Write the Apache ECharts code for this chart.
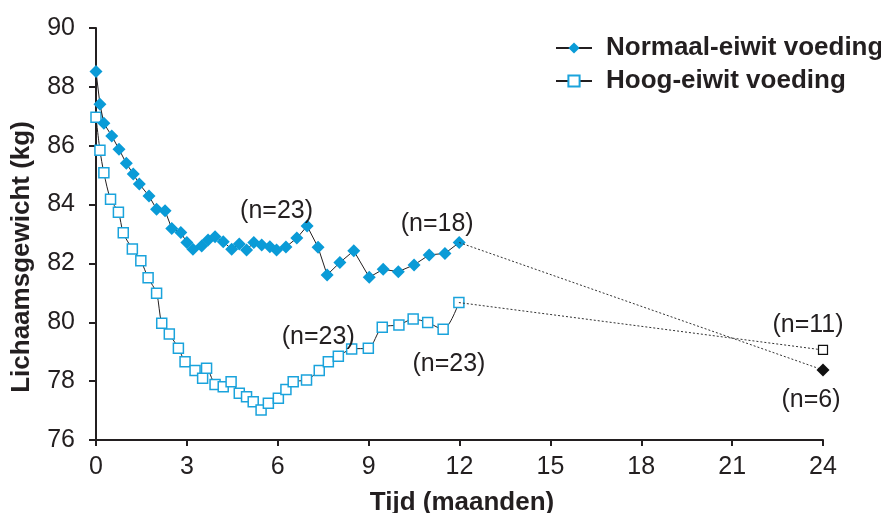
<!DOCTYPE html>
<html>
<head>
<meta charset="utf-8">
<script src="https://cdn.jsdelivr.net/npm/echarts@6/dist/echarts.min.js"></script>
<style>
  html, body { margin: 0; padding: 0; background: #fff; }
  #chart { width: 881px; height: 513px; }
</style>
</head>
<body>
<div id="chart"></div>
<script>
// Body weight over time (months), two diet groups
const normaalMaanden = [0, 0.13, 0.26, 0.52, 0.76, 1.0, 1.23, 1.43, 1.75, 2.0, 2.28, 2.5, 2.8, 3.0, 3.2, 3.49, 3.7, 3.93, 4.2, 4.48, 4.73, 4.97, 5.21, 5.47, 5.74, 5.96, 6.27, 6.63, 6.97, 7.33, 7.63, 8.05, 8.51, 9.02, 9.48, 9.98, 10.5, 11.0, 11.52, 11.99];
const normaalGewicht = [88.52, 87.41, 86.76, 86.33, 85.88, 85.40, 85.04, 84.70, 84.29, 83.84, 83.79, 83.19, 83.05, 82.71, 82.48, 82.59, 82.80, 82.91, 82.74, 82.48, 82.66, 82.46, 82.71, 82.63, 82.57, 82.46, 82.56, 82.86, 83.27, 82.55, 81.61, 82.03, 82.43, 81.53, 81.80, 81.72, 81.95, 82.29, 82.34, 82.71];

const hoogMaanden = [0, 0.13, 0.26, 0.48, 0.74, 0.9, 1.2, 1.48, 1.72, 2.0, 2.17, 2.42, 2.72, 2.94, 3.27, 3.52, 3.65, 3.93, 4.2, 4.46, 4.73, 4.97, 5.19, 5.45, 5.69, 6.02, 6.27, 6.51, 6.95, 7.37, 7.67, 8.0, 8.44, 8.99, 9.45, 10.0, 10.47, 10.95, 11.46, 11.98];
const hoogGewicht = [86.97, 85.85, 85.08, 84.18, 83.74, 83.04, 82.49, 82.09, 81.51, 80.99, 79.97, 79.60, 79.12, 78.66, 78.36, 78.10, 78.44, 77.89, 77.81, 77.98, 77.59, 77.47, 77.30, 77.02, 77.25, 77.42, 77.72, 77.98, 78.04, 78.36, 78.66, 78.85, 79.09, 79.12, 79.83, 79.91, 80.11, 79.99, 79.76, 80.67];

// Follow-up measurement at 24 months
const eindMaand = 24;
const normaalEind = 78.38;
const hoogEind = 79.06;

const xTicks = [0, 3, 6, 9, 12, 15, 18, 21, 24];

const reeksNamen = ['Normaal-eiwit voeding', 'Hoog-eiwit voeding'];

const inkt = '#231f20';
const blauw = '#0a9bd7';
const font = 'Liberation Sans, Arial, sans-serif';
const labelGrootte = 25;
const titelGrootte = 26;

function paren(xs, ys) { return xs.map((x, i) => [x, ys[i]]); }

// n-labels, centred on a point and shifted by an offset
function nLabel(text, offset) {
  return { show: true, formatter: text, position: 'inside', offset: offset,
           color: inkt, fontSize: labelGrootte, fontFamily: font };
}
function metLabel(points, idx, text, offset) {
  points[idx] = { value: points[idx], label: nLabel(text, offset) };
}

const normaalData = paren(normaalMaanden, normaalGewicht);
const hoogData = paren(hoogMaanden, hoogGewicht);
metLabel(normaalData, 25, '(n=23)', [0, -39]);
metLabel(normaalData, normaalData.length - 1, '(n=18)', [-22, -18]);
metLabel(hoogData, 29, '(n=23)', [-1, -33]);
metLabel(hoogData, hoogData.length - 1, '(n=23)', [-10, 62]);

const chart = echarts.init(document.getElementById('chart'), null, { renderer: 'canvas' });

chart.setOption({
  animation: false,
  backgroundColor: '#ffffff',
  textStyle: { fontFamily: font, color: inkt },
  grid: { left: 96, right: 58, top: 28, bottom: 73, containLabel: false, outerBoundsMode: 'none' },
  legend: {
    data: reeksNamen,
    orient: 'vertical',
    left: 555,
    top: 35,
    padding: 0,
    itemGap: 7,
    itemWidth: 36,
    itemHeight: 14,
    textStyle: { fontSize: titelGrootte, fontWeight: 'bold', color: inkt, fontFamily: font, padding: [0, 0, 0, 9] }
  },
  xAxis: {
    type: 'value',
    min: 0, max: 24, interval: 3,
    name: 'Tijd (maanden)',
    nameLocation: 'middle',
    nameGap: 50,
    nameTextStyle: { fontSize: titelGrootte, fontWeight: 'bold', color: inkt, fontFamily: font, padding: [0, 0, 0, 5] },
    axisLine: { lineStyle: { color: inkt, width: 2 } },
    axisTick: { show: true, length: 6, lineStyle: { color: inkt, width: 2 } },
    axisLabel: { fontSize: labelGrootte, color: inkt, margin: 15, fontFamily: font,
                 customValues: xTicks },
    splitLine: { show: false }
  },
  yAxis: {
    type: 'value',
    min: 76, max: 90, interval: 2,
    name: 'Lichaamsgewicht (kg)',
    nameLocation: 'middle',
    nameGap: 61,
    nameRotate: 90,
    nameTextStyle: { fontSize: titelGrootte, fontWeight: 'bold', color: inkt, fontFamily: font, padding: [0, 46, 0, 0] },
    axisLine: { show: true, lineStyle: { color: inkt, width: 2 } },
    axisTick: { show: true, length: 7, lineStyle: { color: inkt, width: 2 } },
    axisLabel: { fontSize: labelGrootte, color: inkt, margin: 21, fontFamily: font },
    splitLine: { show: false }
  },
  series: [
    {
      name: reeksNamen[0],
      type: 'line',
      data: normaalData,
      symbol: 'diamond',
      symbolSize: 13,
      z: 3,
      itemStyle: { color: blauw, borderWidth: 0 },
      lineStyle: { color: inkt, width: 1 },
      emphasis: { disabled: true }
    },
    {
      name: reeksNamen[1],
      type: 'line',
      data: hoogData,
      symbol: 'rect',
      symbolSize: 10,
      smooth: 0.3,
      z: 2,
      itemStyle: { color: '#ffffff', borderColor: '#1aa3dc', borderWidth: 1.5 },
      lineStyle: { color: inkt, width: 1 },
      emphasis: { disabled: true }
    },
    {
      name: 'normaal-24',
      type: 'line',
      data: [
        { value: [normaalMaanden[normaalMaanden.length - 1], normaalGewicht[normaalGewicht.length - 1]], symbol: 'none' },
        { value: [eindMaand, normaalEind], label: nLabel('(n=6)', [-12, 30]) }
      ],
      symbol: 'diamond',
      symbolSize: 13,
      z: 4,
      itemStyle: { color: '#111' },
      lineStyle: { color: '#333', width: 1, type: [2, 2] },
      emphasis: { disabled: true }
    },
    {
      name: 'hoog-24',
      type: 'line',
      data: [
        { value: [hoogMaanden[hoogMaanden.length - 1], hoogGewicht[hoogGewicht.length - 1]], symbol: 'none' },
        { value: [eindMaand, hoogEind], label: nLabel('(n=11)', [-15, -25]) }
      ],
      symbol: 'rect',
      symbolSize: 9,
      z: 4,
      itemStyle: { color: '#ffffff', borderColor: '#111', borderWidth: 1.2 },
      lineStyle: { color: '#333', width: 1, type: [2, 2] },
      emphasis: { disabled: true }
    }
  ]
});
</script>
</body>
</html>
